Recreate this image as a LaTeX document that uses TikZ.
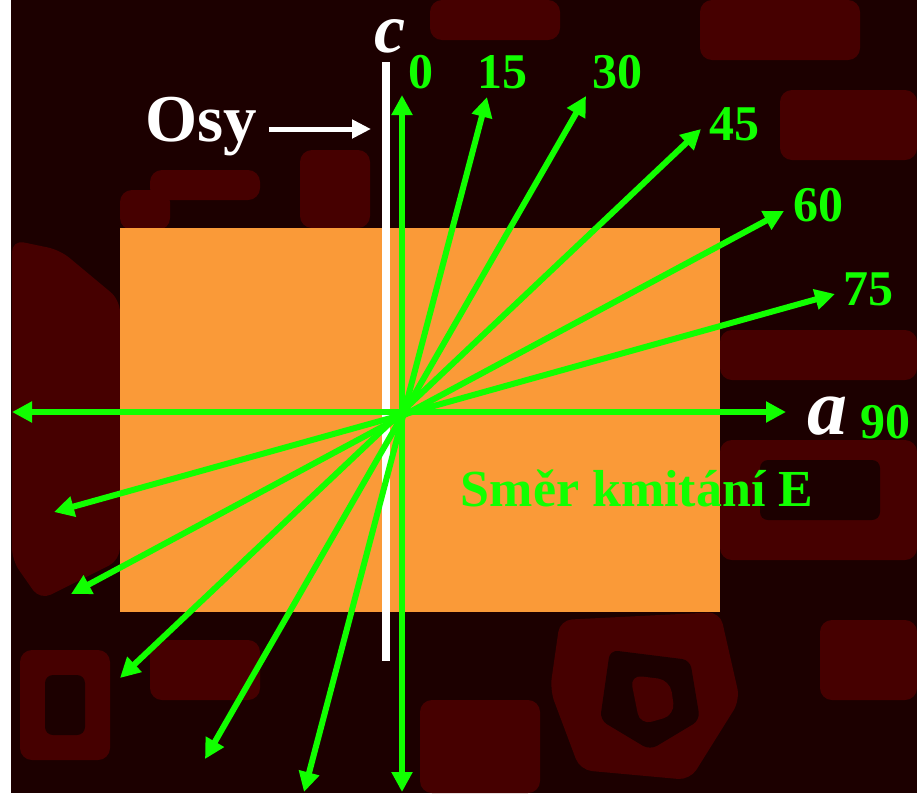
\documentclass[tikz,border=0pt]{standalone}
\usepackage{fontspec}
\setmainfont{Liberation Serif}
\usetikzlibrary{arrows.meta}
\definecolor{bgdark}{RGB}{28,0,0}
\definecolor{bgred}{RGB}{70,0,0}
\definecolor{plate}{RGB}{250,154,56}
\definecolor{vgreen}{RGB}{17,255,0}
\tikzset{
  garrow/.style={draw=vgreen, line width=6pt, {Triangle[length=20pt,width=20pt]}-{Triangle[length=20pt,width=20pt]}},
  glabel/.style={text=vgreen, font=\fontsize{50}{50}\selectfont\bfseries, inner sep=0pt},
  wlabel/.style={text=white, inner sep=0pt},
  patch/.style={fill=bgred, draw=none, rounded corners=12pt},
}
\begin{document}
\begin{tikzpicture}[x=1pt,y=-1pt]
\useasboundingbox (0,0) rectangle (917,793);
% background
\fill[bgdark] (0,0) rectangle (917,793);
\fill[white] (0,0) rectangle (11,793);
% texture patches
\fill[patch] (12,240) -- (60,250) -- (120,300) -- (120,560) -- (40,600) -- (12,560) -- cycle;
\fill[patch] (20,650) rectangle (110,760);
\fill[bgdark, rounded corners=8pt] (45,675) rectangle (85,735);
\fill[patch] (150,170) rectangle (260,200);
\fill[patch] (120,190) rectangle (170,230);
\fill[patch] (300,150) rectangle (370,228);
\fill[patch] (430,0) rectangle (560,40);
\fill[patch] (700,0) rectangle (860,60);
\fill[patch] (780,90) rectangle (917,160);
\fill[patch] (720,330) rectangle (917,380);
\fill[patch] (720,440) rectangle (917,560);
\fill[bgdark, rounded corners=8pt] (760,460) rectangle (880,520);
\fill[patch] (560,620) -- (720,612) -- (740,700) -- (690,780) -- (580,770) -- (550,690) -- cycle;
\fill[bgdark, rounded corners=8pt] (610,650) -- (690,660) -- (700,720) -- (650,750) -- (600,720) -- cycle;
\fill[patch] (630,675) -- (670,680) -- (675,715) -- (640,725) -- cycle;
\fill[patch] (150,640) rectangle (260,700);
\fill[patch] (420,700) rectangle (540,793);
\fill[patch] (820,620) rectangle (917,700);
% orange plate
\node[fill=plate, inner sep=0pt, minimum width=600pt, minimum height=384pt] (plate) at (420,420) {};
% white c axis
\coordinate (ctop) at (386,62);
\coordinate (cbot) at (386,661);
\draw[white, line width=8pt] (ctop) -- (cbot);
% labels c, a, Osy
\node[wlabel, font=\fontsize{70}{70}\selectfont\bfseries\itshape] (c) at (390,36) {c};
\node[wlabel, font=\fontsize{80}{80}\selectfont\bfseries\itshape] (a) at (827,416) {a};
\node[wlabel, font=\fontsize{67}{67}\selectfont\bfseries, anchor=base] (osy) at (201,141) {Osy};
\coordinate (osyend) at (371,129);
\draw[white, line width=5pt, -{Triangle[length=19pt,width=18pt]}] (osy.east |- osyend) ++(12,0) -- (osyend);
% green direction arrows
\coordinate (O) at (402,412);
\coordinate (u0) at (402,95);   \coordinate (d0) at (402,792);
\coordinate (u15) at (487,97);  \coordinate (d15) at (304,792);
\coordinate (u30) at (586,96);  \coordinate (d30) at (205,759);
\coordinate (u45) at (701,129); \coordinate (d45) at (120,678);
\coordinate (u60) at (784,211); \coordinate (d60) at (71,594);
\coordinate (u75) at (835,294); \coordinate (d75) at (54,512);
\coordinate (u90) at (786,412); \coordinate (d90) at (12,412);
\foreach \k in {0,15,30,45,60,75,90}{
  \draw[garrow] (d\k) -- (u\k);
}
% angle labels
\node[glabel] (l0) at (421,72) {0};
\node[glabel] (l15) at (502,72) {15};
\node[glabel] (l30) at (617,72) {30};
\node[glabel] (l45) at (734,124) {45};
\node[glabel] (l60) at (818,205) {60};
\node[glabel] (l75) at (868,289) {75};
\node[glabel] (l90) at (885,422) {90};
\node[text=vgreen, inner sep=0pt, anchor=base, font=\fontsize{52}{52}\selectfont\bfseries] (smer) at (637,506) {Směr kmitání E};
\end{tikzpicture}
\end{document}
